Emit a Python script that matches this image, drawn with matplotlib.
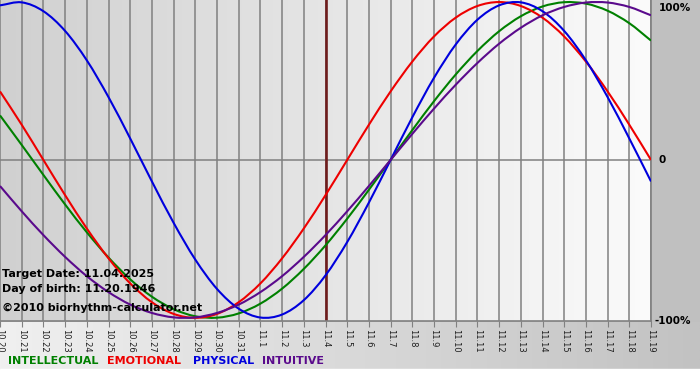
import numpy as np
import matplotlib.pyplot as plt
from matplotlib.colors import LinearSegmentedColormap
from matplotlib.path import Path
from matplotlib.patches import PathPatch

# dias mostrados no eixo x (10.20 ... 11.19)
dates = ["10.20", "10.21", "10.22", "10.23", "10.24", "10.25", "10.26", "10.27",
         "10.28", "10.29", "10.30", "10.31", "11.1", "11.2", "11.3", "11.4",
         "11.5", "11.6", "11.7", "11.8", "11.9", "11.10", "11.11", "11.12",
         "11.13", "11.14", "11.15", "11.16", "11.17", "11.18", "11.19"]
target_day = "11.4"

# valores de cada ciclo (-1 .. 1), um por dia
intellectual = [0.282, 0.095, -0.095, -0.282, -0.458, -0.618, -0.756, -0.866,
                -0.945, -0.990, -0.999, -0.972, -0.910, -0.815, -0.690, -0.541,
                -0.372, -0.189, 0.0, 0.189, 0.372, 0.541, 0.690, 0.815,
                0.910, 0.972, 0.999, 0.990, 0.945, 0.866, 0.756]
emotional = [0.434, 0.223, 0.0, -0.223, -0.434, -0.623, -0.782, -0.901,
             -0.975, -1.0, -0.975, -0.901, -0.782, -0.623, -0.434, -0.223,
             0.0, 0.223, 0.434, 0.623, 0.782, 0.901, 0.975, 1.0,
             0.975, 0.901, 0.782, 0.623, 0.434, 0.223, 0.0]
physical = [0.979, 0.998, 0.942, 0.817, 0.631, 0.398, 0.136, -0.136,
            -0.398, -0.631, -0.817, -0.942, -0.998, -0.979, -0.888, -0.731,
            -0.520, -0.270, 0.0, 0.270, 0.520, 0.731, 0.888, 0.979,
            0.998, 0.942, 0.817, 0.631, 0.398, 0.136, -0.136]
intuitive = [-0.165, -0.325, -0.476, -0.614, -0.736, -0.837, -0.916, -0.969,
             -0.997, -0.997, -0.969, -0.916, -0.837, -0.736, -0.614, -0.476,
             -0.325, -0.165, 0.0, 0.165, 0.325, 0.476, 0.614, 0.736,
             0.837, 0.916, 0.969, 0.997, 0.997, 0.969, 0.916]

series = [("INTELLECTUAL", intellectual, "#008000"),
          ("EMOTIONAL", emotional, "#ee0000"),
          ("PHYSICAL", physical, "#0000dd"),
          ("INTUITIVE", intuitive, "#5a0a8c")]


def smooth_path(xs, ys):
    # curva suave (Bezier) passando pelos pontos lidos
    pts = np.column_stack([xs, ys]).astype(float)
    ext = np.vstack([2 * pts[0] - pts[1], pts, 2 * pts[-1] - pts[-2]])
    verts = [pts[0]]
    codes = [Path.MOVETO]
    for i in range(1, len(ext) - 2):
        p0, p1, p2, p3 = ext[i - 1], ext[i], ext[i + 1], ext[i + 2]
        verts += [p1 + (p2 - p0) / 6, p2 - (p3 - p1) / 6, p2]
        codes += [Path.CURVE4] * 3
    return Path(verts, codes)


fig = plt.figure(figsize=(7, 3.8), dpi=100)
fig.patch.set_facecolor("#c0c0c0")

# fundo da figura (faixa inferior com degradê e borda branca)
bg = fig.add_axes([0, 0, 1, 1], zorder=-1)
strip = LinearSegmentedColormap.from_list("strip", ["#f0f0f0", "#c2c2c2"])
bg.imshow(np.linspace(0, 1, 256).reshape(1, -1), extent=[0, 700, 369, 322],
          cmap=strip, aspect="auto")
bg.axhspan(369, 380, color="white")
bg.set_xlim(0, 700)
bg.set_ylim(380, 0)
bg.axis("off")

ax = fig.add_axes([0, 59 / 380, 651 / 700, 321 / 380])
x = np.arange(len(dates))

grad = LinearSegmentedColormap.from_list("plotbg", ["#d0d0d0", "#fbfbfb"])
ax.imshow(np.linspace(0, 1, 256).reshape(1, -1), extent=[0, 30, -1.1, 1.1],
          cmap=grad, aspect="auto", zorder=0)

for xi in x:
    ax.axvline(xi, color="#808080", lw=1.1, zorder=1)
ax.axhline(0, color="#808080", lw=1.1, zorder=1)
ax.axvline(dates.index(target_day), color="#6e1c1c", lw=1.9, zorder=2)

for name, vals, color in series:
    ax.add_patch(PathPatch(smooth_path(x, vals), fill=False, edgecolor=color,
                           lw=1.5, zorder=3))

ax.set_xlim(0, 30)
ax.set_ylim(-1.02, 1.013)
ax.set_yticks([])
ax.set_xticks(x)
ax.set_xticklabels(dates, rotation=-90, fontsize=6, color="#202020")
ax.tick_params(axis="x", length=4, color="#808080", pad=2)
for side in ["left", "top"]:
    ax.spines[side].set_visible(False)
for side in ["right", "bottom"]:
    ax.spines[side].set_color("#808080")
    ax.spines[side].set_linewidth(1.2)

# rótulos de porcentagem à direita
ytr = ax.get_yaxis_transform()
ax.text(1.012, 0.96, "100%", transform=ytr, fontsize=7.5, fontweight="bold",
        va="center", ha="left", clip_on=False)
ax.text(1.012, 0.0, "0", transform=ytr, fontsize=7.5, fontweight="bold",
        va="center", ha="left", clip_on=False)
ax.text(1.006, -1.02, "-100%", transform=ytr, fontsize=7.5, fontweight="bold",
        va="center", ha="left", clip_on=False)

# textos de informação
ax.text(0.1, -0.72, "Target Date: 11.04.2025", fontsize=8, fontweight="bold",
        va="center", zorder=5)
ax.text(0.1, -0.815, "Day of birth: 11.20.1946", fontsize=8, fontweight="bold",
        va="center", zorder=5)
ax.text(0.1, -0.94, "\u00a92010 biorhythm-calculator.net", fontsize=8,
        fontweight="bold", va="center", zorder=5)

# legenda na parte de baixo
leg_x = [8, 107, 193, 262]
for (name, vals, color), lx in zip(series, leg_x):
    fig.text(lx / 700, 1 - 361 / 380, name, color=color, fontsize=8,
             fontweight="bold", va="center", ha="left")

fig.savefig("out.png", dpi=100, facecolor=fig.get_facecolor())
